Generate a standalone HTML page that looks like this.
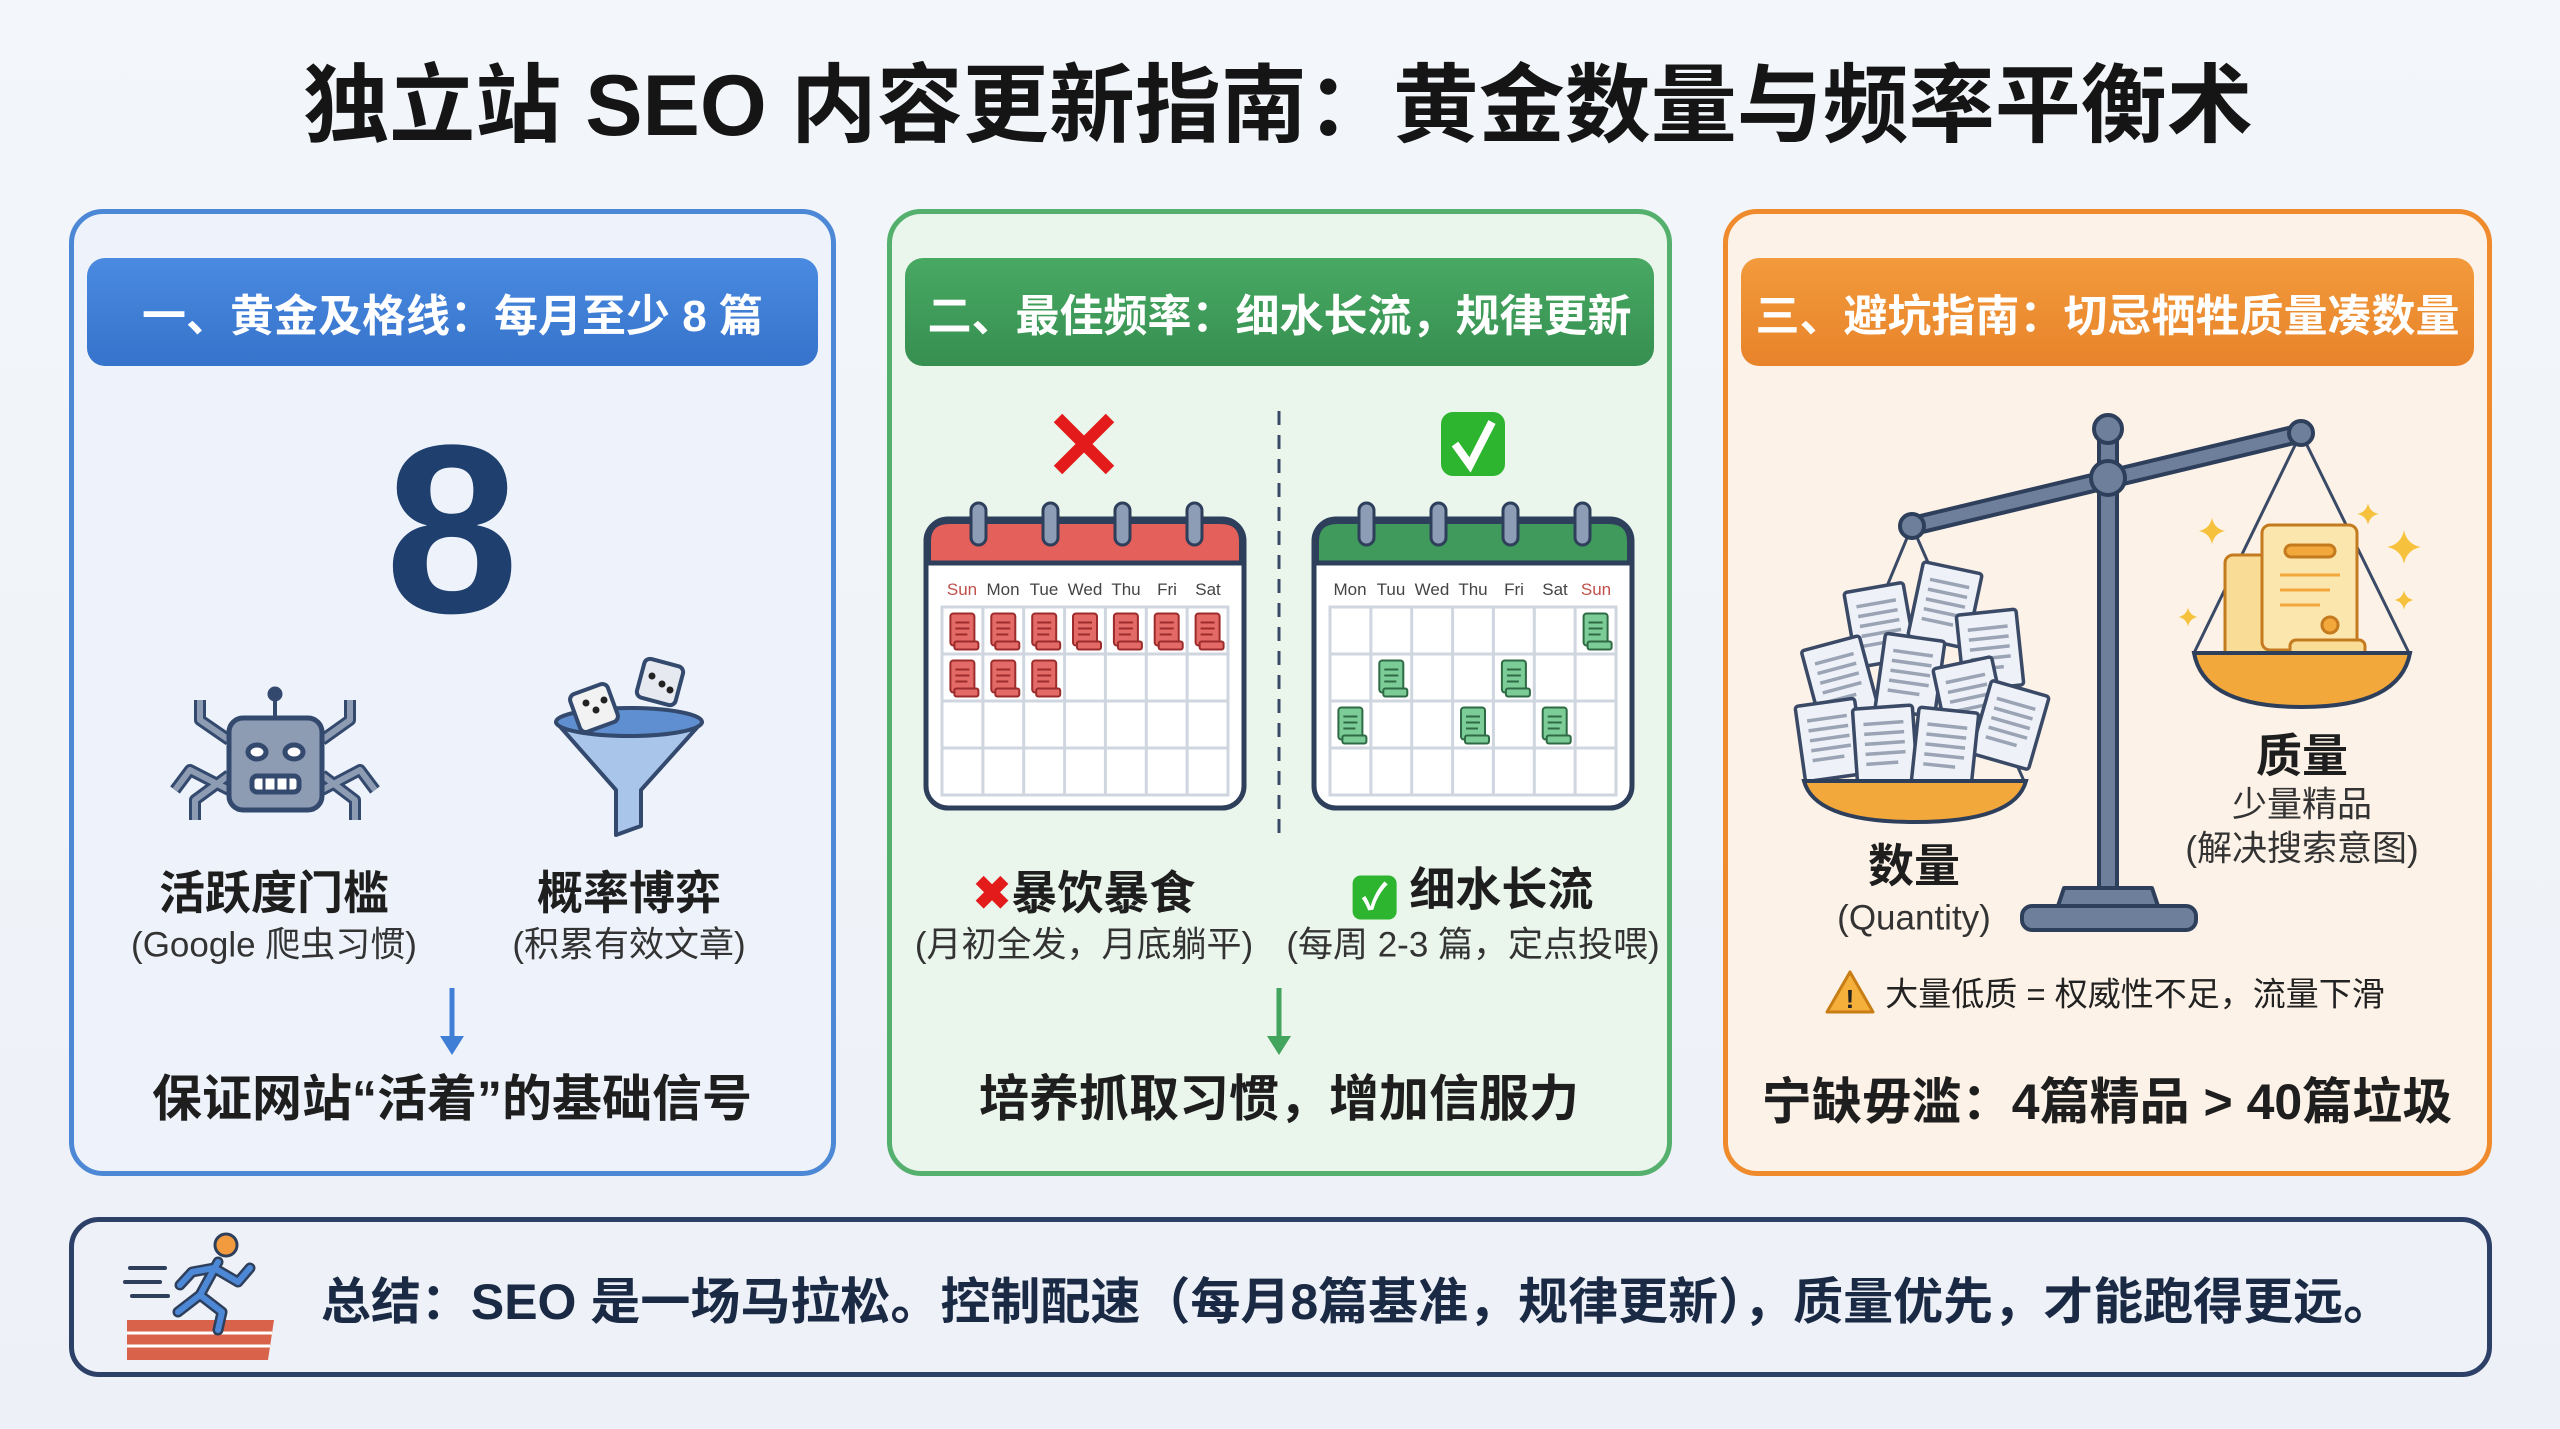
<!DOCTYPE html>
<html><head><meta charset="utf-8"><style>
*{margin:0;padding:0;box-sizing:border-box}
body{width:2560px;height:1429px;overflow:hidden;background:linear-gradient(180deg,#f3f6fa,#edf1f7);font-family:"Liberation Sans","Noto Sans CJK SC",sans-serif;position:relative;color:#1e1e1e}
.t{position:absolute;white-space:nowrap;transform:translate(-50%,-50%);line-height:1}
.b{font-weight:bold}
.panel{position:absolute;border-radius:34px;border:5px solid}
.hd{position:absolute;border-radius:18px;color:#fff;font-weight:bold;font-size:44px;display:flex;align-items:center;justify-content:center;white-space:nowrap}
svg{position:absolute;left:0;top:0}
</style></head><body>
<div class="panel" style="left:69px;top:209px;width:767px;height:967px;border-color:#4d88d6;background:#eef3fb"></div>
<div class="panel" style="left:887px;top:209px;width:785px;height:967px;border-color:#55b06e;background:#eaf5ec"></div>
<div class="panel" style="left:1723px;top:209px;width:769px;height:967px;border-color:#ef8b2c;background:#fcf2e7"></div>
<div class="panel" style="left:69px;top:1217px;width:2423px;height:160px;border-color:#2d4068;background:#eef2f8;border-radius:30px"></div>

<div class="hd" style="left:87px;top:258px;width:731px;height:108px;background:linear-gradient(#4a8ae0,#3673cc)">一、黄金及格线：每月至少 8 篇</div>
<div class="hd" style="left:905px;top:258px;width:749px;height:108px;background:linear-gradient(#48a963,#368f50)">二、最佳频率：细水长流，规律更新</div>
<div class="hd" style="left:1741px;top:258px;width:733px;height:108px;background:linear-gradient(#f29a3c,#e8832a)">三、避坑指南：切忌牺牲质量凑数量</div>

<svg width="2560" height="1429" viewBox="0 0 2560 1429">
<defs>
<g id="cal">
 <rect x="0" y="16" width="318" height="289" rx="22" fill="#fff" stroke="#2e3f5c" stroke-width="5"/>
 <rect x="16" y="104" width="286" height="188" fill="none" stroke="#cfd6df" stroke-width="3"/>
 <path d="M56.9 104V292M97.7 104V292M138.6 104V292M179.4 104V292M220.3 104V292M261.1 104V292M16 151H302M16 198H302M16 245H302" stroke="#cfd6df" stroke-width="3"/>
</g>
<g id="rings">
 <rect x="45" y="0" width="15" height="42" rx="7.5" fill="#8d9db5" stroke="#2e3f5c" stroke-width="3"/>
 <rect x="117" y="0" width="15" height="42" rx="7.5" fill="#8d9db5" stroke="#2e3f5c" stroke-width="3"/>
 <rect x="189" y="0" width="15" height="42" rx="7.5" fill="#8d9db5" stroke="#2e3f5c" stroke-width="3"/>
 <rect x="261" y="0" width="15" height="42" rx="7.5" fill="#8d9db5" stroke="#2e3f5c" stroke-width="3"/>
</g>
<g id="dr"><rect x="-12" y="-17" width="24" height="32" rx="3" fill="#e36a66" stroke="#9c2c2c" stroke-width="2"/><rect x="-8" y="11" width="24" height="8" rx="2" fill="#e36a66" stroke="#9c2c2c" stroke-width="2"/><path d="M-7 -8H7M-7 -2H7M-7 4H5" stroke="#9c2c2c" stroke-width="2"/></g>
<g id="dg"><rect x="-12" y="-17" width="24" height="32" rx="3" fill="#7ccc97" stroke="#2e6a44" stroke-width="2"/><rect x="-8" y="11" width="24" height="8" rx="2" fill="#7ccc97" stroke="#2e6a44" stroke-width="2"/><path d="M-7 -8H7M-7 -2H7M-7 4H5" stroke="#2e6a44" stroke-width="2"/></g>
<g id="paper"><rect x="-30" y="-38" width="60" height="76" rx="3" fill="#eef1f7" stroke="#3a4a66" stroke-width="3.5"/><path d="M-20 -22H20M-20 -12H20M-20 -2H20M-20 8H20M-20 18H12" stroke="#9aa4b5" stroke-width="3.5"/></g>
<path id="spk" d="M0 -12 Q2 -2 12 0 Q2 2 0 12 Q-2 2 -12 0 Q-2 -2 0 -12Z" fill="#f6c23e"/>
</defs>

<text x="452" y="612" text-anchor="middle" font-family="Liberation Sans" font-weight="bold" font-size="240" fill="#1f3f6e">8</text>

<g stroke="#33496d" stroke-width="5" fill="#8d9bb3" stroke-linejoin="round">
 <path d="M229 740 L200 720 L200 700 M229 790 L190 770 L175 790 M229 775 L195 800 L195 820" fill="none" stroke-width="12" stroke="#33496d"/>
 <path d="M229 740 L200 720 L200 700 M229 790 L190 770 L175 790 M229 775 L195 800 L195 820" fill="none" stroke-width="6" stroke="#8d9bb3"/>
 <path d="M322 740 L350 720 L350 700 M322 790 L360 770 L375 790 M322 775 L355 800 L355 820" fill="none" stroke-width="12" stroke="#33496d"/>
 <path d="M322 740 L350 720 L350 700 M322 790 L360 770 L375 790 M322 775 L355 800 L355 820" fill="none" stroke-width="6" stroke="#8d9bb3"/>
 <line x1="275" y1="718" x2="275" y2="698" stroke-width="4"/><circle cx="275" cy="694" r="5" fill="#33496d"/>
 <rect x="229" y="718" width="93" height="92" rx="14"/>
 <ellipse cx="257" cy="752" rx="9" ry="7" fill="#fff"/><ellipse cx="294" cy="752" rx="9" ry="7" fill="#fff"/>
 <rect x="252" y="776" width="47" height="16" rx="5" fill="#fff"/>
 <path d="M264 776V792M276 776V792M288 776V792" stroke-width="3"/>
</g>
<g stroke="#33496d" stroke-width="4" stroke-linejoin="round">
 <path d="M556 722 L616 790 L616 835 L641 826 L641 790 L702 722Z" fill="#a9c6ea"/>
 <ellipse cx="629" cy="722" rx="73" ry="14" fill="#5f8fd0"/>
 <rect x="574" y="688" width="40" height="40" rx="6" fill="#f2f2f2" transform="rotate(-20 594 708)"/>
 <rect x="640" y="662" width="40" height="40" rx="6" fill="#e6e9ef" transform="rotate(15 660 682)"/>
 <g fill="#222" stroke="none"><circle cx="586" cy="703" r="3.5"/><circle cx="596" cy="710" r="3.5"/><circle cx="604" cy="700" r="3.5"/><circle cx="652" cy="676" r="3.5"/><circle cx="662" cy="684" r="3.5"/><circle cx="670" cy="690" r="3.5"/></g>
</g>
<g stroke-width="5"><line x1="452" y1="988" x2="452" y2="1040" stroke="#3f7fd6"/><path d="M440 1036 L452 1055 L464 1036Z" fill="#3f7fd6"/>
<line x1="1279" y1="988" x2="1279" y2="1040" stroke="#43a45e"/><path d="M1267 1036 L1279 1055 L1291 1036Z" fill="#43a45e"/></g>

<line x1="1279" y1="411" x2="1279" y2="841" stroke="#3a4a66" stroke-width="3" stroke-dasharray="14 10"/>
<path d="M1058 418 L1110 470 M1110 418 L1058 470" stroke="#e31b1b" stroke-width="12"/>
<rect x="1441" y="412" width="64" height="64" rx="12" fill="#2db52f"/>
<path d="M1455 444 L1470 465 L1492 422" fill="none" stroke="#fff" stroke-width="8"/>
<g transform="translate(926,503)">
 <use href="#cal"/>
 <path d="M2.5 60 V38 Q2.5 18.5 24 18.5 H294 Q315.5 18.5 315.5 38 V60Z" fill="#e4605a" stroke="#2e3f5c" stroke-width="5"/>
 <use href="#rings"/>
 <g font-family="Liberation Sans" font-size="17" fill="#444" text-anchor="middle"><text x="36" y="92" fill="#c0504a">Sun</text><text x="77" y="92">Mon</text><text x="118" y="92">Tue</text><text x="159" y="92">Wed</text><text x="200" y="92">Thu</text><text x="241" y="92">Fri</text><text x="282" y="92">Sat</text></g>
 <use href="#dr" x="36.4" y="127.5"/><use href="#dr" x="77.3" y="127.5"/><use href="#dr" x="118.2" y="127.5"/><use href="#dr" x="159" y="127.5"/><use href="#dr" x="199.9" y="127.5"/><use href="#dr" x="240.7" y="127.5"/><use href="#dr" x="281.6" y="127.5"/>
 <use href="#dr" x="36.4" y="174.5"/><use href="#dr" x="77.3" y="174.5"/><use href="#dr" x="118.2" y="174.5"/>
</g>
<g transform="translate(1314,503)">
 <use href="#cal"/>
 <path d="M2.5 60 V38 Q2.5 18.5 24 18.5 H294 Q315.5 18.5 315.5 38 V60Z" fill="#3f9a5c" stroke="#2e3f5c" stroke-width="5"/>
 <use href="#rings"/>
 <g font-family="Liberation Sans" font-size="17" fill="#444" text-anchor="middle"><text x="36" y="92">Mon</text><text x="77" y="92">Tuu</text><text x="118" y="92">Wed</text><text x="159" y="92">Thu</text><text x="200" y="92">Fri</text><text x="241" y="92">Sat</text><text x="282" y="92" fill="#c0504a">Sun</text></g>
 <use href="#dg" x="281.6" y="127.5"/><use href="#dg" x="77.3" y="174.5"/><use href="#dg" x="199.9" y="174.5"/><use href="#dg" x="36.4" y="221.5"/><use href="#dg" x="159" y="221.5"/><use href="#dg" x="240.7" y="221.5"/>
</g>

<g stroke="#3a4a66" stroke-width="3" fill="none">
 <path d="M1912 526 L1806 781 M1912 526 L2024 781"/>
 <path d="M2301 433 L2194 653 M2301 433 L2409 653"/>
</g>
<g stroke="#2e3f5c" stroke-width="4" stroke-linejoin="round">
 <rect x="2099" y="430" width="18" height="470" fill="#6d7f9a"/>
 <path d="M1912 518 L2301 425 L2303 441 L1914 534Z" fill="#6d7f9a"/>
 <circle cx="2108" cy="429" r="14" fill="#6d7f9a"/>
 <circle cx="2108" cy="478" r="17" fill="#6d7f9a"/>
 <circle cx="1912" cy="526" r="12" fill="#6d7f9a"/>
 <circle cx="2301" cy="433" r="12" fill="#6d7f9a"/>
 <path d="M2058 906 L2064 888 H2152 L2158 906Z" fill="#6d7f9a"/>
 <rect x="2022" y="906" width="174" height="24" rx="10" fill="#6d7f9a"/>
</g>
<g>
 <use href="#paper" transform="translate(1880 625) rotate(-10)"/>
 <use href="#paper" transform="translate(1945 605) rotate(12)"/>
 <use href="#paper" transform="translate(1990 650) rotate(-6)"/>
 <use href="#paper" transform="translate(1840 680) rotate(-15)"/>
 <use href="#paper" transform="translate(1910 675) rotate(8)"/>
 <use href="#paper" transform="translate(1970 700) rotate(-12)"/>
 <use href="#paper" transform="translate(2010 725) rotate(16)"/>
 <use href="#paper" transform="translate(1830 740) rotate(-8)"/>
 <use href="#paper" transform="translate(1885 745) rotate(-4)"/>
 <use href="#paper" transform="translate(1945 748) rotate(6)"/>
</g>
<path d="M1804 781 H2026 Q2015 822 1915 822 Q1815 822 1804 781Z" fill="#f3a83c" stroke="#2e3f5c" stroke-width="4"/>
<g stroke="#c47a1e" stroke-width="3">
 <rect x="2225" y="555" width="50" height="105" rx="8" fill="#f9dd96"/>
 <rect x="2262" y="525" width="95" height="125" rx="8" fill="#fbe6ae"/>
 <rect x="2285" y="545" width="50" height="12" rx="6" fill="#f3a83c"/>
 <path d="M2280 575 H2340 M2280 590 H2330 M2280 605 H2320" stroke="#f3a83c"/>
 <circle cx="2330" cy="625" r="8" fill="#f3a83c"/>
 <rect x="2290" y="640" width="75" height="18" rx="6" fill="#f9dd96"/>
</g>
<path d="M2194 653 H2410 Q2400 707 2302 707 Q2204 707 2194 653Z" fill="#f3a83c" stroke="#2e3f5c" stroke-width="4"/>
<use href="#spk" transform="translate(2212 531) scale(1.1)"/>
<use href="#spk" transform="translate(2368 514) scale(0.9)"/>
<use href="#spk" transform="translate(2404 547) scale(1.4)"/>
<use href="#spk" transform="translate(2188 617) scale(0.8)"/>
<use href="#spk" transform="translate(2404 600) scale(0.8)"/>
<path d="M1850 972 L1873 1012 H1827Z" fill="#f4b03a" stroke="#c87e14" stroke-width="3" stroke-linejoin="round"/>
<text x="1850" y="1008" text-anchor="middle" font-family="Liberation Sans" font-weight="bold" font-size="26" fill="#222">!</text>

<g>
 <path d="M127 1320 H274 L268 1360 H127Z" fill="#d9634a"/>
 <path d="M127 1333 H272 M127 1346 H270" stroke="#fff" stroke-width="3"/>
 <path d="M130 1268 H165 M125 1282 H160 M132 1296 H168" stroke="#2e3f5c" stroke-width="4" stroke-linecap="round"/>
 <circle cx="226" cy="1245" r="11" fill="#f19a3e" stroke="#2e3f5c" stroke-width="3"/>
 <path d="M218 1262 L200 1295 L178 1312 M200 1295 L222 1312 L218 1330 M214 1268 L238 1282 L250 1268 M214 1268 L192 1272 L180 1285" fill="none" stroke="#2e3f5c" stroke-width="11" stroke-linecap="round" stroke-linejoin="round"/>
 <path d="M218 1262 L200 1295 L178 1312 M200 1295 L222 1312 L218 1330 M214 1268 L238 1282 L250 1268 M214 1268 L192 1272 L180 1285" fill="none" stroke="#4d88d6" stroke-width="6" stroke-linecap="round" stroke-linejoin="round"/>
</g>
</svg>

<div class="t b" style="left:1278px;top:106px;font-size:86px;color:#151515">独立站 SEO 内容更新指南：黄金数量与频率平衡术</div>

<div class="t b" style="left:274px;top:893px;font-size:46px">活跃度门槛</div>
<div class="t" style="left:274px;top:945px;font-size:35px;color:#333">(Google 爬虫习惯)</div>
<div class="t b" style="left:629px;top:893px;font-size:46px">概率博弈</div>
<div class="t" style="left:629px;top:945px;font-size:35px;color:#333">(积累有效文章)</div>
<div class="t b" style="left:452px;top:1099px;font-size:50px">保证网站“活着”的基础信号</div>

<div class="t b" style="left:1084px;top:893px;font-size:46px"><span style="color:#e31b1b">✖</span>暴饮暴食</div>
<div class="t" style="left:1084px;top:945px;font-size:35px;color:#333">(月初全发，月底躺平)</div>
<div class="t b" style="left:1473px;top:893px;font-size:46px"><span style="display:inline-block;width:44px;height:44px;background:#2db52f;border-radius:8px;color:#fff;font-size:36px;text-align:center;line-height:44px;vertical-align:-4px">✓</span> 细水长流</div>
<div class="t" style="left:1473px;top:945px;font-size:35px;color:#333">(每周 2-3 篇，定点投喂)</div>
<div class="t b" style="left:1279px;top:1099px;font-size:50px">培养抓取习惯，增加信服力</div>

<div class="t b" style="left:2302px;top:756px;font-size:46px">质量</div>
<div class="t" style="left:2302px;top:805px;font-size:35px;color:#333">少量精品</div>
<div class="t" style="left:2302px;top:849px;font-size:35px;color:#333">(解决搜索意图)</div>
<div class="t b" style="left:1914px;top:866px;font-size:46px">数量</div>
<div class="t" style="left:1914px;top:918px;font-size:35px;color:#333">(Quantity)</div>
<div class="t" style="left:2135px;top:994px;font-size:33px;color:#222">大量低质 = 权威性不足，流量下滑</div>
<div class="t b" style="left:2107px;top:1102px;font-size:50px">宁缺毋滥：4篇精品 &gt; 40篇垃圾</div>

<div class="t b" style="left:1357px;top:1302px;font-size:50px;color:#1a2a44">总结：SEO 是一场马拉松。控制配速（每月8篇基准，规律更新），质量优先，才能跑得更远。</div>
</body></html>
